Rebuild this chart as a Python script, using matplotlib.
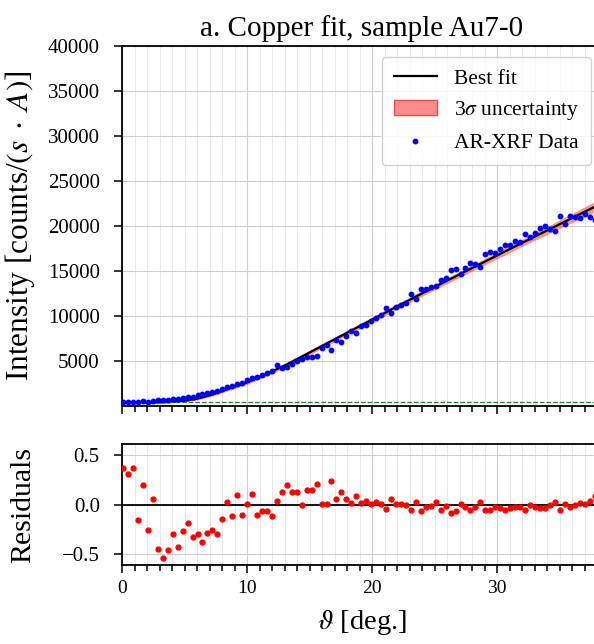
import matplotlib
matplotlib.use("Agg")
import matplotlib.pyplot as plt
from matplotlib.patches import Patch
from matplotlib.lines import Line2D
from matplotlib.ticker import MultipleLocator

plt.rcParams['font.family'] = ['Liberation Serif', 'DejaVu Serif']
plt.rcParams['mathtext.fontset'] = 'stix'

# ---------------- data ----------------
theta = [0.08, 0.48, 0.87, 1.27, 1.67, 2.07, 2.46, 2.86, 3.26, 3.65,
         4.05, 4.45, 4.84, 5.24, 5.64, 6.04, 6.43, 6.83, 7.23, 7.62,
         8.02, 8.42, 8.81, 9.21, 9.61, 10.01, 10.40, 10.80, 11.20, 11.59,
         11.99, 12.39, 12.78, 13.18, 13.58, 13.98, 14.37, 14.77, 15.17, 15.56,
         15.96, 16.36, 16.75, 17.15, 17.55, 17.95, 18.34, 18.74, 19.14, 19.53,
         19.93, 20.33, 20.72, 21.12, 21.52, 21.92, 22.31, 22.71, 23.11, 23.50,
         23.90, 24.30, 24.69, 25.09, 25.49, 25.89, 26.28, 26.68, 27.08, 27.47,
         27.87, 28.27, 28.66, 29.06, 29.46, 29.86, 30.25, 30.65, 31.05, 31.44,
         31.84, 32.24, 32.63, 33.03, 33.43, 33.83, 34.22, 34.62, 35.02, 35.41,
         35.81, 36.21, 36.60, 37.00, 37.40, 37.80]

intensity = [430, 450, 470, 440, 520, 480, 560, 620, 700, 720,
             800, 780, 880, 950, 1050, 1200, 1300, 1480, 1550, 1700,
             1850, 2100, 2200, 2500, 2550, 2850, 3150, 3200, 3500, 3700,
             3900, 4550, 4250, 4300, 4650, 4950, 5200, 5400, 5500, 5600,
             6500, 6750, 6200, 7300, 7150, 7750, 8300, 8150, 8850, 9000,
             9450, 9750, 10150, 10850, 10300, 10950, 11250, 11500, 12400, 11900,
             13000, 13050, 13200, 13350, 14050, 14250, 15150, 15200, 14650, 15300,
             15900, 15800, 15450, 16900, 17100, 16950, 17400, 17900, 17900, 18300,
             18250, 19150, 18800, 19250, 19750, 19950, 19700, 19450, 21100, 20250,
             21100, 21000, 20850, 21350, 20950, 20650]

residuals = [0.37, 0.31, 0.37, -0.16, 0.20, -0.26, 0.06, -0.45, -0.54, -0.46,
             -0.30, -0.43, -0.27, -0.19, -0.33, -0.30, -0.38, -0.29, -0.26, -0.30,
             -0.15, 0.03, -0.12, 0.10, -0.11, 0.01, 0.11, -0.11, -0.07, -0.07,
             -0.12, 0.04, 0.125, 0.20, 0.13, 0.13, 0.00, 0.15, 0.15, 0.21,
             0.01, 0.01, 0.24, 0.06, 0.13, 0.06, 0.02, 0.09, 0.02, 0.04,
             0.01, 0.03, 0.01, -0.05, 0.06, 0.01, 0.01, 0.00, -0.06, 0.03,
             -0.07, -0.03, -0.02, 0.03, -0.06, -0.02, -0.09, -0.07, 0.01, -0.03,
             -0.06, -0.03, 0.03, -0.06, -0.06, -0.03, -0.04, -0.06, -0.04, -0.03,
             -0.03, -0.06, -0.01, -0.03, -0.04, -0.04, -0.01, 0.03, -0.06, 0.01,
             -0.03, 0.00, 0.02, 0.01, 0.04, 0.09]

fit_theta = [0, 1, 2, 3, 4, 5, 6, 7, 8, 9,
             10, 11, 12, 13, 14, 15, 16, 17, 18, 19,
             20, 21, 22, 23, 24, 25, 26, 27, 28, 29,
             30, 31, 32, 33, 34, 35, 36, 37, 38, 39]
fit_vals = [380, 380, 385, 400, 460, 580, 800, 1180, 1650, 2150,
            2620, 3220, 3850, 4480, 5210, 5940, 6670, 7400, 8130, 8860,
            9590, 10320, 11050, 11780, 12510, 13220, 13920, 14620, 15320, 16020,
            16720, 17420, 18120, 18810, 19500, 20190, 20880, 21570, 22260, 22950]
fit_3sigma = [60, 60, 60, 70, 90, 120, 150, 170, 190, 205,
              220, 230, 240, 250, 255, 260, 265, 270, 280, 290,
              300, 305, 310, 315, 320, 330, 335, 340, 350, 360,
              380, 390, 400, 420, 450, 480, 510, 550, 600, 650]

background = 420

# ---------------- figure ----------------
fig = plt.figure(figsize=(5.94, 6.44), dpi=100)
ax = fig.add_axes([122/594, 1-406/644, 480/594, 360/644])
axr = fig.add_axes([122/594, 1-565/644, 480/594, 121/644], sharex=ax)

lower = [f - s for f, s in zip(fit_vals, fit_3sigma)]
upper = [f + s for f, s in zip(fit_vals, fit_3sigma)]
lower2 = [f - s/2 for f, s in zip(fit_vals, fit_3sigma)]
upper2 = [f + s/2 for f, s in zip(fit_vals, fit_3sigma)]

ax.fill_between(fit_theta, lower, upper, color='red', alpha=0.42, lw=0, zorder=2)
ax.fill_between(fit_theta, lower2, upper2, color='orange', alpha=0.25, lw=0, zorder=2)
ax.plot(fit_theta, fit_vals, color='black', lw=1.6, zorder=3)
ax.plot(theta, intensity, 'o', color='blue', ms=3.2, mec='blue', zorder=4)
ax.axhline(background, color='#2a7a2a', ls='--', lw=0.9, zorder=3)

ax.set_xlim(0, 38.4)
ax.set_ylim(0, 40000)
ax.set_yticks(range(5000, 40001, 5000))
ax.xaxis.set_major_locator(MultipleLocator(10))
ax.xaxis.set_minor_locator(MultipleLocator(1))
ax.grid(which='major', color='#cfcfcf', lw=0.8, zorder=0)
ax.grid(which='minor', axis='x', color='#e8e8e8', lw=0.7, zorder=0)
ax.set_axisbelow(True)
ax.tick_params(axis='x', labelbottom=False)
ax.tick_params(which='both', direction='out', width=1.1)
ax.tick_params(axis='y', labelsize=15, pad=10)
ax.tick_params(which='major', length=6)
ax.tick_params(which='minor', length=4)
for sp in ax.spines.values():
    sp.set_linewidth(1.3)
ax.set_ylabel(r'Intensity [counts/$(s\;\cdot\;A)$]', fontsize=22.5)
ax.set_title('a. Copper fit, sample Au7-0', fontsize=21, pad=7)

handles = [Line2D([], [], color='black', lw=1.6),
           Patch(facecolor=(1, 0.55, 0.55), edgecolor=(0.9, 0.3, 0.3), lw=1),
           Line2D([], [], color='blue', marker='o', ls='', ms=3.2)]
labels = ['Best fit', r'3$\sigma$ uncertainty', 'AR-XRF Data']
ax.legend(handles, labels, loc='upper right', fontsize=15.5,
          framealpha=0.85, edgecolor='#cccccc', fancybox=True,
          handlelength=2.0, borderpad=0.55, labelspacing=0.5)

# residuals
axr.axhline(0, color='black', lw=1.3, zorder=3)
axr.plot(theta, residuals, 'o', color='red', ms=3.5, zorder=4)
axr.set_ylim(-0.61, 0.61)
axr.set_yticks([-0.5, 0.0, 0.5])
axr.grid(which='major', color='#cfcfcf', lw=0.8, zorder=0)
axr.grid(which='minor', axis='x', color='#e8e8e8', lw=0.7, zorder=0)
axr.set_axisbelow(True)
axr.tick_params(which='both', direction='out', width=1.1)
axr.tick_params(axis='y', labelsize=15, pad=10)
axr.tick_params(axis='x', labelsize=14, pad=5)
axr.tick_params(which='major', length=6)
axr.tick_params(which='minor', length=4)
for sp in axr.spines.values():
    sp.set_linewidth(1.3)
axr.set_ylabel('Residuals', fontsize=21.5)
axr.set_xlabel(r'$\vartheta$ [deg.]', fontsize=20.5, labelpad=8)

ax.yaxis.set_label_coords(-0.178, 0.5)
axr.yaxis.set_label_coords(-0.178, 0.5)

fig.savefig('out.png', dpi=100)
